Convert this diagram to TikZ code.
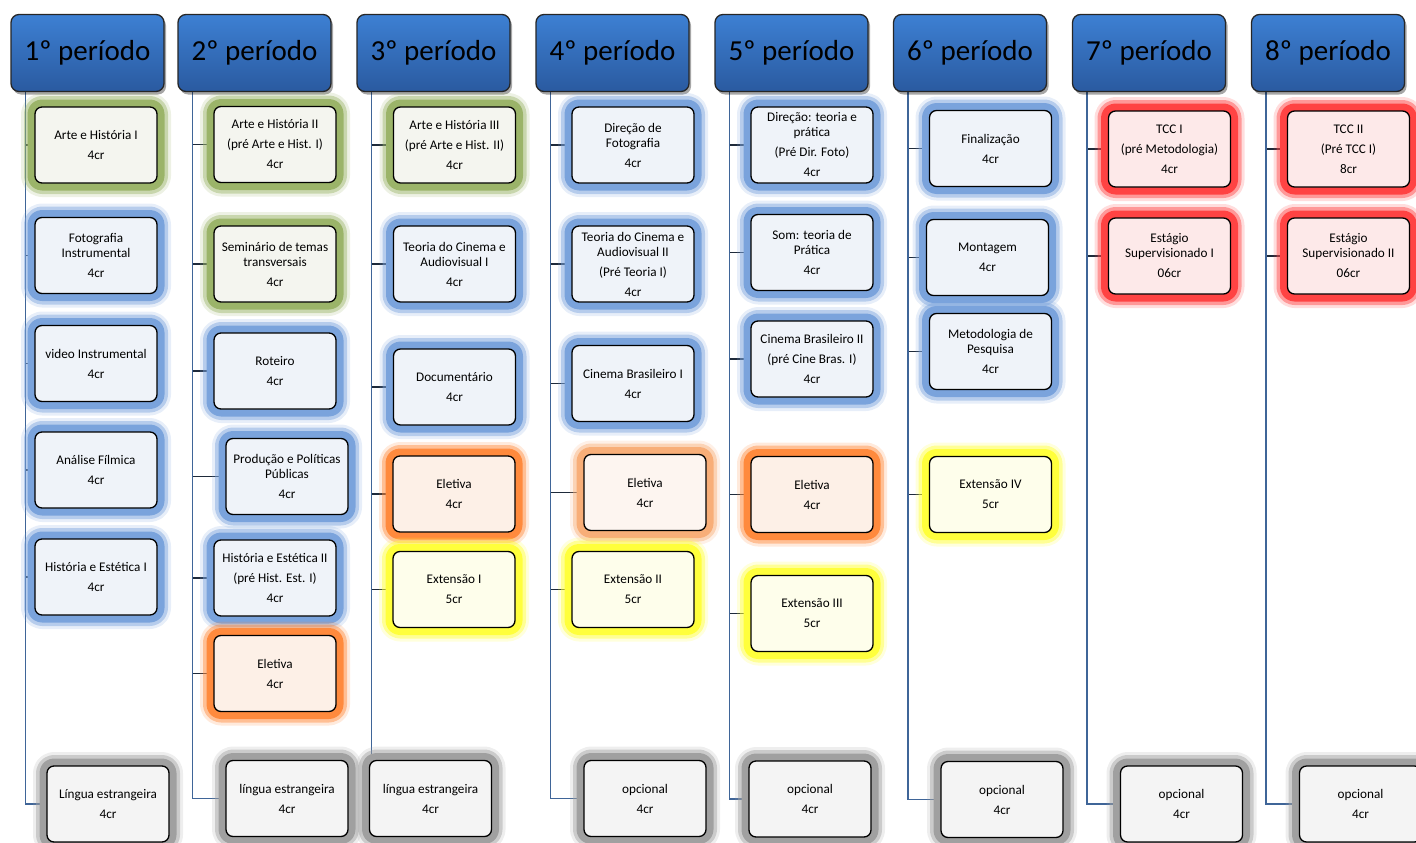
\documentclass[tikz,border=0pt]{standalone}
\usepackage{fontspec}
\setmainfont{Carlito}
\usetikzlibrary{shadows,backgrounds}
\definecolor{hdrtop}{HTML}{3D80D3}
\definecolor{hdrbot}{HTML}{2A5AA0}
\definecolor{ggreen}{HTML}{9BB469}
\definecolor{fgreen}{HTML}{F4F5EF}
\definecolor{gblue}{HTML}{7AA3DC}
\definecolor{fblue}{HTML}{EFF3F9}
\definecolor{gorange}{HTML}{FF8A3D}
\definecolor{gorangel}{HTML}{F8AE78}
\definecolor{forange}{HTML}{FDF0E7}
\definecolor{forangel}{HTML}{FDF5F0}
\definecolor{gred}{HTML}{FF4343}
\definecolor{fred}{HTML}{FDE9E9}
\definecolor{gyellow}{HTML}{FFFF3C}
\definecolor{fyellow}{HTML}{FEFEEB}
\definecolor{ggray}{HTML}{A0A0A0}
\definecolor{fgray}{HTML}{F4F4F4}
\definecolor{vcol}{HTML}{3F6598}
\definecolor{scol}{HTML}{1E2A3A}
\begin{document}
\begin{tikzpicture}[x=1pt,y=-1pt,
  glow/.style={preaction={draw=#1,line width=28pt,opacity=0.18,line join=round},
               preaction={draw=#1,line width=22pt,opacity=0.45,line join=round},
               preaction={draw=#1,line width=15pt,line join=round}},
  cbox/.style={draw=black,line width=1.3pt,rounded corners=7pt,minimum width=122pt,
               minimum height=76pt,inner sep=2pt,align=center,
               font=\fontsize{13.2}{15}\selectfont},
  boxg/.style={cbox,fill=fgreen,glow=ggreen},
  boxb/.style={cbox,fill=fblue,glow=gblue},
  boxo/.style={cbox,fill=forange,glow=gorange},
  boxol/.style={cbox,fill=forangel,glow=gorangel},
  boxr/.style={cbox,fill=fred,glow=gred},
  boxy/.style={cbox,fill=fyellow,glow=gyellow},
  boxk/.style={cbox,fill=fgray,glow=ggray},
  hdr/.style={draw=black!85,line width=1.3pt,rounded corners=8pt,minimum width=153pt,
              minimum height=77pt,top color=hdrtop,bottom color=hdrbot,
              font=\fontsize{29}{34}\selectfont,
              drop shadow={shadow xshift=2pt,shadow yshift=-3pt,opacity=0.35,fill=black}},
  vline/.style={draw=vcol,line width=1.3pt},
  stub/.style={draw=scol,line width=1.3pt}]
\useasboundingbox (0,0) rectangle (1416,843);

% headers
\node[hdr] (H1) at (87.5,53) {1º período};
\node[hdr] (H2) at (254.5,53) {2º período};
\node[hdr] (H3) at (433.5,53) {3º período};
\node[hdr] (H4) at (612.5,53) {4º período};
\node[hdr] (H5) at (791.5,53) {5º período};
\node[hdr] (H6) at (970,53) {6º período};
\node[hdr] (H7) at (1149,53) {7º período};
\node[hdr] (H8) at (1328,53) {8º período};

\foreach \i in {1,...,8} \coordinate (V\i) at ([xshift=15pt]H\i.south west);

% column 1
\node[boxg] (a1) at (96,145) {Arte e História I\\[5pt]4cr};
\node[boxb] (f1) at (96,255.5) {Fotografia\\Instrumental\\[5pt]4cr};
\node[boxb] (v1) at (96,363.5) {video Instrumental\\[5pt]4cr};
\node[boxb] (an1) at (96,470) {Análise Fílmica\\[5pt]4cr};
\node[boxb] (h1) at (96,577) {História e Estética I\\[5pt]4cr};
\node[boxk] (l1) at (108,804) {Língua estrangeira\\[5pt]4cr};

% column 2
\node[boxg] (a2) at (275,144.5) {Arte e História II\\[5pt](pré Arte e Hist. I)\\[5pt]4cr};
\node[boxg] (s2) at (275,264) {Seminário de temas\\transversais\\[5pt]4cr};
\node[boxb] (r2) at (275,371) {Roteiro\\[5pt]4cr};
\node[boxb] (p2) at (287,476.5) {Produção e Políticas\\Públicas\\[5pt]4cr};
\node[boxb] (h2) at (275,578) {História e Estética II\\[5pt](pré Hist. Est. I)\\[5pt]4cr};
\node[boxo] (e2) at (275,673.5) {Eletiva\\[5pt]4cr};
\node[boxk] (l2) at (287,798.5) {língua estrangeira\\[5pt]4cr};

% column 3
\node[boxg] (a3) at (454.5,145) {Arte e História III\\[5pt](pré Arte e Hist. II)\\[5pt]4cr};
\node[boxb] (t3) at (454.5,264) {Teoria do Cinema e\\Audiovisual I\\[5pt]4cr};
\node[boxb] (d3) at (454.5,387) {Documentário\\[5pt]4cr};
\node[boxo] (e3) at (454,494) {Eletiva\\[5pt]4cr};
\node[boxy] (x3) at (454,589.5) {Extensão I\\[5pt]5cr};
\node[boxk] (l3) at (430.5,798.5) {língua estrangeira\\[5pt]4cr};

% column 4
\node[boxb] (d4) at (633,145) {Direção de\\Fotografia\\[5pt]4cr};
\node[boxb] (t4) at (633,264) {Teoria do Cinema e\\Audiovisual II\\[5pt](Pré Teoria I)\\[5pt]4cr};
\node[boxb] (c4) at (633,383.5) {Cinema Brasileiro I\\[5pt]4cr};
\node[boxol] (e4) at (645,492.5) {Eletiva\\[5pt]4cr};
\node[boxy] (x4) at (633,589.5) {Extensão II\\[5pt]5cr};
\node[boxk] (o4) at (645,798.5) {opcional\\[5pt]4cr};

% column 5
\node[boxb] (d5) at (812,145) {Direção: teoria e\\prática\\[5pt](Pré Dir. Foto)\\[5pt]4cr};
\node[boxb] (s5) at (812,252.5) {Som: teoria de\\Prática\\[5pt]4cr};
\node[boxb] (c5) at (812,359) {Cinema Brasileiro II\\[5pt](pré Cine Bras. I)\\[5pt]4cr};
\node[boxo] (e5) at (812,494.5) {Eletiva\\[5pt]4cr};
\node[boxy] (x5) at (812,613.5) {Extensão III\\[5pt]5cr};
\node[boxk] (o5) at (810,799) {opcional\\[5pt]4cr};

% column 6
\node[boxb] (f6) at (990.5,148.5) {Finalização\\[5pt]4cr};
\node[boxb] (m6) at (987.5,257.5) {Montagem\\[5pt]4cr};
\node[boxb] (me6) at (990.5,351.5) {Metodologia de\\Pesquisa\\[5pt]4cr};
\node[boxy] (x6) at (990.5,494.5) {Extensão IV\\[5pt]5cr};
\node[boxk] (o6) at (1002,799.5) {opcional\\[5pt]4cr};

% column 7
\node[boxr] (t7) at (1169.5,149) {TCC I\\[5pt](pré Metodologia)\\[5pt]4cr};
\node[boxr] (es7) at (1169.5,256) {Estágio\\Supervisionado I\\[5pt]06cr};
\node[boxk] (o7) at (1181.5,804) {opcional\\[5pt]4cr};

% column 8
\node[boxr] (t8) at (1348.5,149) {TCC II\\[5pt](Pré TCC I)\\[5pt]8cr};
\node[boxr] (es8) at (1348.5,256) {Estágio\\Supervisionado II\\[5pt]06cr};
\node[boxk] (o8) at (1360.5,804) {opcional\\[5pt]4cr};

\begin{scope}[on background layer]
  \foreach \c/\list in {1/{a1,f1,v1,an1,h1},2/{a2,s2,r2,p2,h2,e2},3/{a3,t3,d3,e3,x3},
                        4/{d4,t4,c4,e4,x4},5/{d5,s5,c5,e5,x5},6/{f6,m6,me6,x6},
                        7/{t7,es7},8/{t8,es8}}{
    \foreach \n in \list \draw[stub] (V\c |- \n.west) -- (\n.west);
  }
  \draw[vline] (V1) |- (l1.west);
  \draw[vline] (V2) |- (l2.west);
  \draw[vline] (V3) -- (V3 |- l3.north);
  \draw[vline] (V4) |- (o4.west);
  \draw[vline] (V5) |- (o5.west);
  \draw[vline] (V6) |- (o6.west);
  \draw[vline] (V7) |- (o7.west);
  \draw[vline] (V8) |- (o8.west);
\end{scope}
\end{tikzpicture}
\end{document}
